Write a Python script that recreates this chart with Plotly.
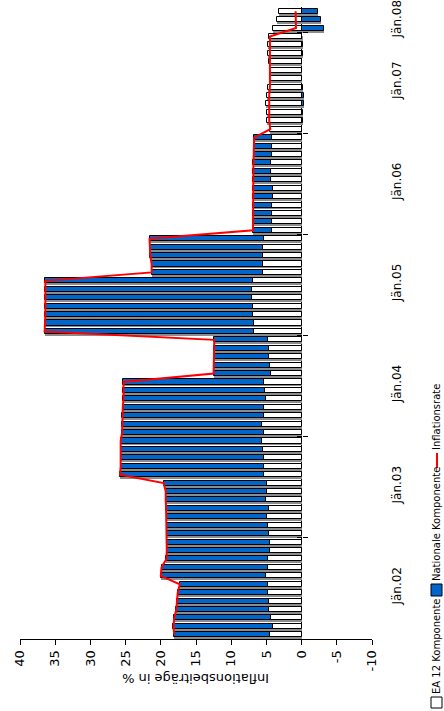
import plotly.graph_objects as go

# ---- data (monthly, Jän.02 ... Mär.08) ----
year_labels = ["Jän.02", "Jän.03", "Jän.04", "Jän.05", "Jän.06", "Jän.07", "Jän.08"]
value_ticks = [40, 35, 30, 25, 20, 15, 10, 5, 0, -5, -10]

ea12 = [
    4.5, 4.1, 4.3, 4.6, 4.6, 4.8, 4.8, 5.0, 4.8, 4.8, 4.5, 4.5,      # 2002
    4.7, 4.8, 4.9, 4.7, 5.0, 4.9, 4.9, 5.3, 5.4, 5.3, 5.5, 5.6,      # 2003
    5.3, 5.6, 5.4, 5.3, 5.1, 5.2, 5.4, 4.4, 4.5, 4.6, 4.7, 4.8,      # 2004
    6.8, 6.7, 6.95, 6.95, 7.0, 7.0, 6.85, 5.5, 5.45, 5.45, 5.45, 5.3,  # 2005
    4.25, 4.25, 4.15, 4.15, 4.1, 4.1, 4.4, 4.4, 4.4, 4.25, 4.2, 4.25,  # 2006
    4.5, 4.85, 4.85, 5.05, 4.95, 4.75, 4.5, 4.5, 4.6, 4.75, 4.75, 4.6,  # 2007
    4.0, 3.55, 3.2,                                                   # 2008
]
national = [
    13.6, 14.1, 13.8, 13.2, 13.1, 12.8, 12.5, 15.0, 15.1, 14.4, 14.65, 14.65,
    14.45, 14.35, 14.25, 14.55, 14.3, 14.4, 14.7, 20.5, 20.3, 20.4, 20.2, 20.1,
    20.2, 19.9, 20.05, 20.1, 20.2, 20.1, 19.9, 8.1, 8.0, 7.8, 7.7, 7.6,
    29.7, 29.7, 29.45, 29.45, 29.4, 29.4, 29.55, 15.8, 15.85, 16.05, 16.05, 16.3,
    2.65, 2.65, 2.75, 2.75, 2.85, 2.85, 2.5, 2.45, 2.45, 2.55, 2.6, 2.5,
    -0.05, -0.25, -0.25, -0.4, -0.35, -0.25, 0.0, 0.0, -0.05, -0.15, -0.15, -0.1,
    -3.2, -2.7, -2.35,
]
inflation = [
    18.1, 18.2, 18.1, 17.8, 17.7, 17.6, 17.3, 20.0, 19.9, 19.2, 19.15, 19.15,
    19.15, 19.15, 19.15, 19.25, 19.3, 19.3, 19.6, 25.8, 25.7, 25.7, 25.7, 25.7,
    25.5, 25.5, 25.45, 25.4, 25.3, 25.3, 25.3, 12.5, 12.5, 12.4, 12.4, 12.4,
    36.5, 36.4, 36.4, 36.4, 36.4, 36.4, 36.4, 21.3, 21.3, 21.5, 21.5, 21.6,
    6.9, 6.9, 6.9, 6.9, 6.95, 6.95, 6.9, 6.85, 6.85, 6.8, 6.8, 6.75,
    4.45, 4.6, 4.6, 4.65, 4.6, 4.5, 4.5, 4.5, 4.55, 4.6, 4.6, 4.5,
    0.8, 0.85, 0.85,
]

n = len(ea12)
idx = list(range(n))
nat_base = [e if v >= 0 else 0 for e, v in zip(ea12, national)]
jan_idx = [12 * k for k in range(len(year_labels))]
year_bounds = [12 * k - 0.5 for k in range(1, len(year_labels))]
# year labels sit in the middle of each year; the last (partial) year near the top
label_pos = [min(j + 5.6, n - 2.1) for j in jan_idx]

FONT = "DejaVu Sans"
W, H = 444, 711
ML, MR, MT, MB = 20, 72, 7, 72
PW, PH = W - ML - MR, H - MT - MB

def px(xp):
    return (xp - ML) / PW

def py(yp):
    return (H - MB - yp) / PH

BW = 0.6
fig = go.Figure()
# shadows
for vals, base in ((ea12, [0] * n), (national, nat_base)):
    fig.add_trace(go.Bar(y=idx, x=vals, base=base, orientation="h", width=BW, offset=-0.53,
                         marker=dict(color="#8c8c8c", line=dict(width=0)),
                         showlegend=False, hoverinfo="skip"))
fig.add_trace(go.Bar(y=idx, x=ea12, base=[0] * n, orientation="h", width=BW, offset=-BW / 2,
                     marker=dict(color="white", line=dict(color="black", width=1)),
                     name="EA 12 Komponente", showlegend=False))
fig.add_trace(go.Bar(y=idx, x=national, base=nat_base, orientation="h", width=BW, offset=-BW / 2,
                     marker=dict(color="#0066cc", line=dict(color="black", width=1)),
                     name="Nationale Komponente", showlegend=False))
fig.add_trace(go.Scatter(x=inflation, y=idx, mode="lines", line=dict(color="#ff0000", width=2),
                         name="Inflationsrate", showlegend=False))
# empty traces so the tick-mark axes at zero are drawn
fig.add_trace(go.Scatter(x=[], y=[], yaxis="y2", showlegend=False))
fig.add_trace(go.Scatter(x=[], y=[], yaxis="y3", showlegend=False))

yr = [-0.5, n - 0.5]
zero_pos = (0 - 40) / (-10 - 40)

fig.update_layout(
    width=W, height=H, margin=dict(l=ML, r=MR, t=MT, b=MB, autoexpand=False),
    paper_bgcolor="white", plot_bgcolor="white", barmode="overlay", bargap=0,
    font=dict(family=FONT, size=12, color="black"),
    xaxis=dict(range=[40, -10], tickvals=value_ticks, ticktext=[str(v) for v in value_ticks],
               tickangle=-90, ticks="outside", ticklen=5, tickcolor="black",
               showline=True, linecolor="black", linewidth=1, showgrid=False,
               zeroline=True, zerolinecolor="black", zerolinewidth=1,
               tickfont=dict(family=FONT, size=13, color="black"), fixedrange=True),
    yaxis=dict(range=yr, tickvals=label_pos, ticktext=year_labels,
               side="right", ticks="", showline=False, showgrid=False, zeroline=False,
               tickangle=-90, ticklabelstandoff=16, ticklabeloverflow="allow",
               tickfont=dict(family=FONT, size=12, color="black")),
    yaxis2=dict(range=yr, overlaying="y", anchor="free", position=zero_pos, side="left",
                tickvals=year_bounds, ticks="outside", ticklen=5, tickcolor="black",
                showticklabels=False, showline=False, showgrid=False, zeroline=False),
    yaxis3=dict(range=yr, overlaying="y", anchor="free", position=zero_pos, side="left",
                tickvals=year_bounds, ticks="inside", ticklen=5, tickcolor="black",
                showticklabels=False, showline=False, showgrid=False, zeroline=False),
)

# axis title (upside down, as in the rotated original)
fig.add_annotation(text="Inflationsbeiträge in %", textangle=180, xref="x", x=15,
                   yref="paper", y=py(688), showarrow=False,
                   font=dict(family=FONT, size=13, color="black"))

# legend (rotated)
LX = 436
LF = 10
def legend_text(txt, yc):
    fig.add_annotation(text=txt, textangle=-90, xref="paper", yref="paper",
                       x=px(LX), y=py(yc), yanchor="middle", xanchor="center",
                       showarrow=False, borderpad=0,
                       font=dict(family=FONT, size=LF, color="black"))

fig.add_shape(type="rect", xref="paper", yref="paper", x0=px(431), x1=px(442),
              y0=py(708), y1=py(697), fillcolor="white", line=dict(color="black", width=1))
legend_text("EA 12 Komponente", 646)
fig.add_shape(type="rect", xref="paper", yref="paper", x0=px(431), x1=px(442),
              y0=py(596), y1=py(584), fillcolor="#0066cc", line=dict(color="black", width=1))
legend_text("Nationale Komponente", 524)
fig.add_shape(type="line", xref="paper", yref="paper", x0=px(LX + 1), x1=px(LX + 1),
              y0=py(468), y1=py(453), line=dict(color="#ff0000", width=2))
legend_text("Inflationsrate", 417)

fig.write_html("out.html", config={"displayModeBar": False},
               post_script="document.body.style.margin='0';")
